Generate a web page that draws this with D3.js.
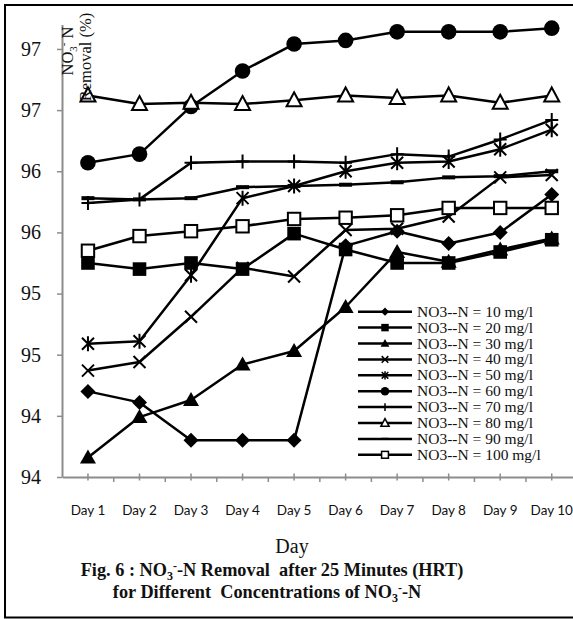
<!DOCTYPE html>
<html>
<head>
<meta charset="utf-8">
<script src="https://cdn.jsdelivr.net/npm/d3@7"></script>
<style>
  body { margin: 0; background: #fff; }
  text { white-space: pre; }
</style>
</head>
<body>
<svg id="chart" width="573" height="619"></svg>
<script>
// Categories (x axis)
const days = ["Day 1", "Day 2", "Day 3", "Day 4", "Day 5", "Day 6", "Day 7", "Day 8", "Day 9", "Day 10"];

// NO3--N removal (%) per initial concentration
const n10  = [94.20, 94.11, 93.80, 93.80, 93.80, 95.39, 95.51, 95.41, 95.50, 95.81];
const n20  = [95.25, 95.20, 95.25, 95.20, 95.49, 95.36, 95.25, 95.25, 95.34, 95.44];
const n30  = [93.66, 93.99, 94.13, 94.42, 94.53, 94.89, 95.34, 95.26, 95.36, 95.45];
const n40  = [94.37, 94.44, 94.81, 95.21, 95.14, 95.52, 95.53, 95.63, 95.95, 95.97];
const n50  = [94.59, 94.61, 95.15, 95.78, 95.88, 96.00, 96.07, 96.08, 96.18, 96.34];
const n60  = [96.07, 96.14, 96.53, 96.82, 97.04, 97.07, 97.14, 97.14, 97.14, 97.17];
const n70  = [95.74, 95.77, 96.07, 96.08, 96.08, 96.07, 96.14, 96.12, 96.26, 96.42];
const n80  = [96.62, 96.55, 96.56, 96.55, 96.58, 96.62, 96.60, 96.62, 96.56, 96.62];
const n90  = [95.78, 95.77, 95.78, 95.87, 95.88, 95.89, 95.91, 95.95, 95.96, 96.00];
const n100 = [95.35, 95.47, 95.51, 95.55, 95.61, 95.62, 95.64, 95.70, 95.70, 95.70];

const seriesNames = ["NO3--N = 10 mg/l", "NO3--N = 20 mg/l", "NO3--N = 30 mg/l", "NO3--N = 40 mg/l",
  "NO3--N = 50 mg/l", "NO3--N = 60 mg/l", "NO3--N = 70 mg/l", "NO3--N = 80 mg/l",
  "NO3--N = 90 mg/l", "NO3--N = 100 mg/l"];
const seriesValues = [n10, n20, n30, n40, n50, n60, n70, n80, n90, n100];
const seriesMarkers = ["diamond", "square", "triangle", "cross", "star", "circle", "plus", "triangleOpen", "dash", "squareOpen"];

// Value axis ticks and their printed labels (whole-number format)
const yTickValues = [93.5, 94, 94.5, 95, 95.5, 96, 96.5, 97];
const yTickLabels = ["94", "94", "95", "95", "96", "96", "97", "97"];

const svg = d3.select("#chart");
const serif = "'Liberation Serif', 'Times New Roman', serif";
const sans = "Lato, 'Open Sans', sans-serif";
const axisGrey = "#8c8c8c";

const x = d3.scaleBand().domain(days).range([62.2, 577.5]).padding(0);
const y = d3.scaleLinear().domain([93.5, 97.2]).range([477, 24.5]);
const cx = d => x(d) + x.bandwidth() / 2;

// Outer frame (left, top, bottom edges)
svg.append("path")
  .attr("d", "M573,5 L5,5 L5,617.5 L573,617.5")
  .attr("fill", "none").attr("stroke", "#000").attr("stroke-width", 2);

// Y axis
const yAxis = svg.append("g").attr("transform", "translate(62,0)")
  .call(d3.axisLeft(y).tickValues(yTickValues)
    .tickFormat((d, i) => yTickLabels[i]).tickSizeInner(5).tickSizeOuter(0).tickPadding(16));
yAxis.select(".domain").attr("stroke", axisGrey).attr("stroke-width", 2);
yAxis.selectAll(".tick line").attr("stroke", axisGrey).attr("stroke-width", 1.5);
yAxis.selectAll(".tick text").attr("font-family", serif).attr("font-size", 20).attr("fill", "#111");

// X axis
const xAxis = svg.append("g").attr("transform", "translate(0,477)")
  .call(d3.axisBottom(x).tickSizeInner(0).tickSizeOuter(0).tickPadding(0));
xAxis.select(".domain").attr("stroke", axisGrey).attr("stroke-width", 2);
xAxis.selectAll(".tick text").attr("font-family", sans).attr("font-size", 13.5)
  .attr("fill", "#111").attr("y", 38).attr("dy", 0);
// category-centre ticks cross the axis; category-boundary ticks hang below it
xAxis.selectAll(".tick line").attr("y1", -3.5).attr("y2", 3.5)
  .attr("stroke", axisGrey).attr("stroke-width", 1.5);
xAxis.selectAll(".bound").data(days.slice(1).concat(["end"]))
  .join("line").attr("class", "bound")
  .attr("x1", (d, i) => x(days[0]) + (i + 1) * x.bandwidth())
  .attr("x2", (d, i) => x(days[0]) + (i + 1) * x.bandwidth())
  .attr("y1", 0).attr("y2", 5).attr("stroke", axisGrey).attr("stroke-width", 1.5);

// Marker shapes
function drawMarker(g, type, px, py, s) {
  const k = s;
  switch (type) {
    case "diamond":
      g.append("path").attr("d", `M${px},${py - 7.5 * k}L${px + 7.5 * k},${py}L${px},${py + 7.5 * k}L${px - 7.5 * k},${py}Z`)
        .attr("fill", "#000");
      break;
    case "square":
      g.append("rect").attr("x", px - 6.8 * k).attr("y", py - 6.8 * k)
        .attr("width", 13.6 * k).attr("height", 13.6 * k).attr("fill", "#000");
      break;
    case "triangle":
      g.append("path").attr("d", `M${px},${py - 8 * k}L${px + 8 * k},${py + 6 * k}L${px - 8 * k},${py + 6 * k}Z`)
        .attr("fill", "#000");
      break;
    case "cross":
      g.append("path").attr("d", `M${px - 6 * k},${py - 6 * k}L${px + 6 * k},${py + 6 * k}M${px - 6 * k},${py + 6 * k}L${px + 6 * k},${py - 6 * k}`)
        .attr("stroke", "#000").attr("stroke-width", 2 * Math.max(k, 0.75));
      break;
    case "star":
      g.append("path").attr("d", `M${px - 6 * k},${py - 6 * k}L${px + 6 * k},${py + 6 * k}M${px - 6 * k},${py + 6 * k}L${px + 6 * k},${py - 6 * k}M${px},${py - 7.5 * k}L${px},${py + 7.5 * k}`)
        .attr("stroke", "#000").attr("stroke-width", 2 * Math.max(k, 0.75));
      break;
    case "circle":
      g.append("circle").attr("cx", px).attr("cy", py).attr("r", 7.8 * k).attr("fill", "#000");
      break;
    case "plus":
      g.append("path").attr("d", `M${px - 6.5 * k},${py}L${px + 6.5 * k},${py}M${px},${py - 7 * k}L${px},${py + 7 * k}`)
        .attr("stroke", "#000").attr("stroke-width", 2 * Math.max(k, 0.75));
      break;
    case "triangleOpen":
      g.append("path").attr("d", `M${px},${py - 8 * k}L${px + 7.5 * k},${py + 6 * k}L${px - 7.5 * k},${py + 6 * k}Z`)
        .attr("fill", "#fff").attr("stroke", "#000").attr("stroke-width", 2 * Math.max(k, 0.75));
      break;
    case "dash":
      g.append("rect").attr("x", px - 6.5 * k).attr("y", py - 2 * k)
        .attr("width", 13 * k).attr("height", 4 * k).attr("fill", "#000");
      break;
    case "squareOpen":
      g.append("rect").attr("x", px - 6.2 * k).attr("y", py - 6.2 * k)
        .attr("width", 12.4 * k).attr("height", 12.4 * k)
        .attr("fill", "#fff").attr("stroke", "#000").attr("stroke-width", 2 * Math.max(k, 0.75));
      break;
  }
}

// Series: line first, then its markers, one series after another
const line = d3.line().x((v, i) => cx(days[i])).y(v => y(v));
seriesValues.forEach((vals, si) => {
  const g = svg.append("g").attr("class", "series");
  g.append("path").attr("d", line(vals)).attr("fill", "none")
    .attr("stroke", "#000").attr("stroke-width", 2.5).attr("stroke-linejoin", "round");
  vals.forEach((v, i) => drawMarker(g, seriesMarkers[si], cx(days[i]), y(v), 1));
});

// Legend
const legend = svg.append("g").attr("class", "legend");
seriesNames.forEach((name, i) => {
  const ly = 311.7 + i * 15.9;
  const row = legend.append("g");
  row.append("line").attr("x1", 358).attr("x2", 412).attr("y1", ly).attr("y2", ly)
    .attr("stroke", "#000").attr("stroke-width", 2.5);
  drawMarker(row, seriesMarkers[i], 385, ly, 0.55);
  row.append("text").attr("x", 417).attr("y", ly + 5)
    .attr("font-family", serif).attr("font-size", 15.5).attr("fill", "#111").text(name);
});

// Y axis title (rotated, two lines)
const yt1 = svg.append("text").attr("transform", "translate(73,51) rotate(-90)")
  .attr("text-anchor", "middle").attr("font-family", serif).attr("font-size", 16.5).attr("fill", "#111");
yt1.append("tspan").text("NO");
yt1.append("tspan").attr("font-size", 11).attr("dy", 4).text("3");
yt1.append("tspan").attr("font-size", 11).attr("dy", -10).text("-");
yt1.append("tspan").attr("dy", 6).text(" N");
svg.append("text").attr("transform", "translate(91,57) rotate(-90)")
  .attr("text-anchor", "middle").attr("font-family", serif).attr("font-size", 16.5).attr("fill", "#111")
  .text("Removal (%)");

// X axis title
svg.append("text").attr("x", 292).attr("y", 553).attr("text-anchor", "middle")
  .attr("font-family", serif).attr("font-size", 20).attr("fill", "#111").text("Day");

// Figure caption
function caption(parts, yPos, xPos) {
  const t = svg.append("text").attr("x", xPos).attr("y", yPos).attr("text-anchor", "middle")
    .attr("font-family", serif).attr("font-weight", "bold").attr("font-size", 18.3).attr("fill", "#111");
  parts.forEach(p => {
    const s = t.append("tspan").text(p.t);
    if (p.sub) s.attr("font-size", 12).attr("dy", 4);
    if (p.sup) s.attr("font-size", 12).attr("dy", -10);
    if (p.back) s.attr("dy", 6);
  });
}
caption([{ t: "Fig. 6 : NO" }, { t: "3", sub: true }, { t: "-", sup: true },
  { t: "-N Removal  after 25 Minutes (HRT)", back: true }], 576, 272);
caption([{ t: "for Different  Concentrations of NO" }, { t: "3", sub: true }, { t: "-", sup: true },
  { t: "-N", back: true }], 598, 267);
</script>
</body>
</html>
